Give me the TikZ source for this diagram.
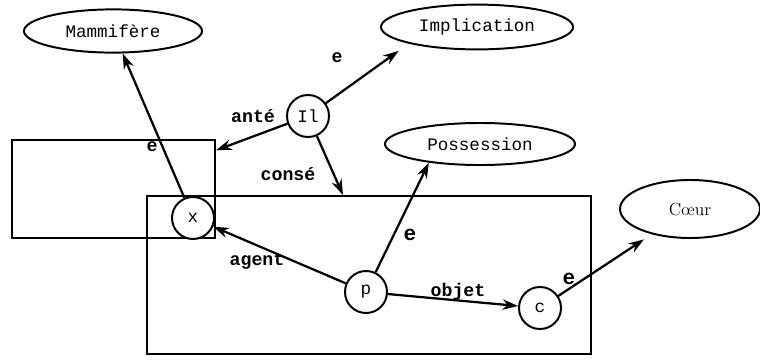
\documentclass[tikz,border=0pt]{standalone}
\usepackage{fontspec}
\setmonofont{Liberation Mono}
\usetikzlibrary{arrows.meta, shapes.geometric}
\tikzset{
  concept/.style={ellipse, draw, line width=1.4pt, inner sep=0pt,
    font=\ttfamily\fontsize{12.5}{14}\selectfont},
  referent/.style={circle, draw, fill=white, line width=1.4pt, inner sep=0pt,
    minimum size=1.05cm, font=\ttfamily\fontsize{12.5}{14}\selectfont},
  context/.style={draw, line width=1.3pt, inner sep=0pt},
  rel/.style={-{Stealth[length=3.9mm, width=2.6mm]}, line width=1.6pt},
  rellabel/.style={font=\ttfamily\bfseries\fontsize{13}{15}\selectfont, inner sep=1pt}
}

\begin{document}
\begin{tikzpicture}[x=0.025cm, y=-0.025cm]
\useasboundingbox (0,0) rectangle (760,362);

% ================= CONTEXTES =================
\node[context, minimum width=5.08cm, minimum height=2.45cm] (smallbox) at (113.5,189) {};
\node[context, minimum width=11.1cm, minimum height=3.95cm] (bigbox) at (369,275) {};

% ================= CONCEPTS =================
\node[concept, minimum width=4.45cm, minimum height=1.08cm] (mammif) at (113,31) {Mammifère};
\node[concept, minimum width=4.8cm, minimum height=1.12cm] (impl) at (477,27) {Implication};
\node[concept, minimum width=4.75cm, minimum height=1.05cm] (poss) at (480,144) {Possession};
\node[concept, minimum width=3.5cm, minimum height=1.45cm,
      font=\rmfamily\fontsize{12.5}{14}\selectfont] (coeur) at (690,209) {Cœur};

% ================= REFERENTS =================
\node[referent] (il) at (308,116) {Il};
\node[referent] (x) at (193,218) {x};
\node[referent] (p) at (366,292) {p};
\node[referent] (c) at (540,308) {c};

% relations
\draw[rel] (x) -- (mammif);
\draw[rel] (il) -- ([yshift=-0.25cm]impl.190);
\draw[rel] (il) -- ([yshift=-0.28cm]smallbox.north east);
\draw[rel] (il) -- ([xshift=-0.65cm]bigbox.north);
\draw[rel] (p) -- (poss.200);
\draw[rel] (p) -- (x);
\draw[rel] (p) -- (c);
\draw[rel, shorten >=0.23cm] (c) -- (coeur);

% etiquettes
\node[rellabel] (eImpl) at (337,58) {e};
\node[rellabel] (ante) at (253,116) {anté};
\node[rellabel] (conse) at (288,174) {consé};
\node[rellabel] (eMammif) at (152,147) {e};
\node[rellabel, font=\ttfamily\bfseries\fontsize{15}{17}\selectfont] (ePoss) at (410,235) {e};
\node[rellabel] (agent) at (257,261) {agent};
\node[rellabel] (objet) at (458,292) {objet};
\node[rellabel, font=\ttfamily\bfseries\fontsize{15}{17}\selectfont] (eCoeur) at (569,279) {e};

\end{tikzpicture}
\end{document}
